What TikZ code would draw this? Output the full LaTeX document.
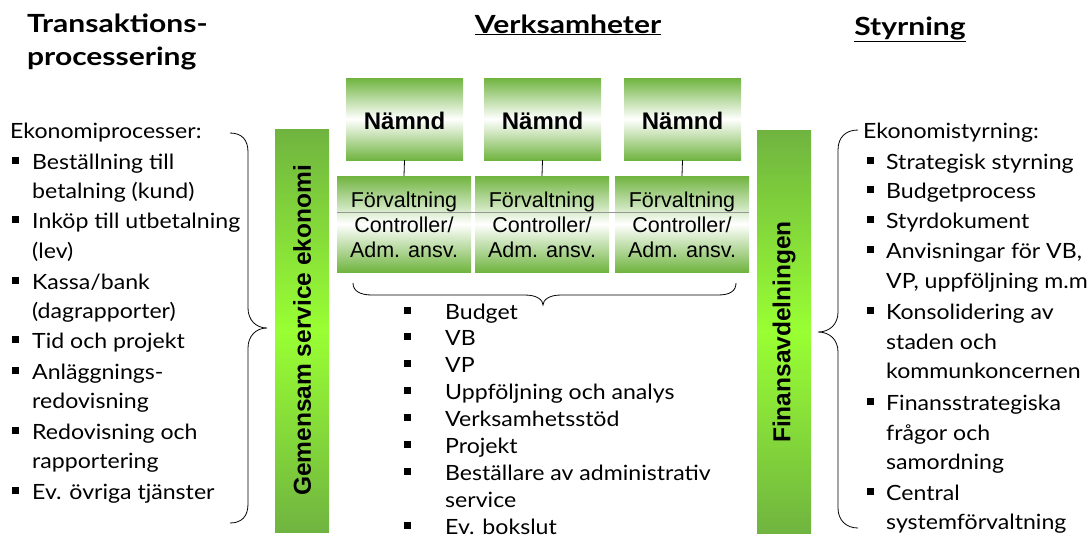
\documentclass[tikz,border=0pt]{standalone}
\usepackage{fontspec}
\setmainfont{Lato}
\newfontfamily\listfont[FakeStretch=1.1]{Lato}
\newfontfamily\headfont[FakeStretch=1.2]{Lato}
\newfontfamily\arialf{Liberation Sans}
\usetikzlibrary{calc}
\definecolor{gA}{RGB}{112,180,64}
\definecolor{lime}{RGB}{153,255,51}
\definecolor{divgray}{RGB}{150,150,150}
\begin{document}
\begin{tikzpicture}[x=1pt,y=-1pt,
  headf/.style={font=\headfont\fontsize{25}{28}\selectfont\bfseries, inner sep=0pt},
  listf/.style={font=\listfont\fontsize{21}{24}\selectfont, inner sep=0pt, anchor=base west},
  bul/.style={fill=black, minimum size=7pt, inner sep=0pt, draw=none},
  namnd/.style={minimum width=117pt, minimum height=82pt, inner sep=0pt,
     top color=gA, bottom color=gA, middle color=white},
  namndt/.style={font=\arialf\fontsize{24}{28}\selectfont\bfseries, inner sep=0pt, anchor=base},
  forv/.style={minimum width=134pt, minimum height=96pt, inner sep=0pt,
     top color=gA, bottom color=gA, middle color=white},
  boxt/.style={font=\arialf\fontsize{21.5}{25}\selectfont, inner sep=0pt, anchor=base},
  bar/.style={minimum width=54pt, minimum height=403pt, inner sep=0pt,
     top color=gA, bottom color=gA, middle color=lime},
  bart/.style={font=\arialf\fontsize{24.5}{28}\selectfont\bfseries, rotate=90, inner sep=0pt},
  brace/.style={draw=black, line width=0.8pt},
  link/.style={draw=black, line width=0.8pt}]
\useasboundingbox (0,0) rectangle (1089,539);

% headings
\node[headf, anchor=base west] (h1) at (27,32) {Transaktions-};
\node[headf, anchor=base west] (h1b) at (27,65) {processering};
\node[headf, anchor=base] (h2) at (568,33) {\underline{Verksamheter}};
\node[headf, anchor=base] (h3) at (910,35) {\underline{Styrning}};

% Nämnd boxes
\foreach \cx [count=\i] in {404.5,542.5,682.5} {
  \node[namnd] (n\i) at (\cx,119) {};
  \node[namndt] (nt\i) at (\cx,129) {Nämnd};
}
% Förvaltning boxes
\foreach \cx [count=\i] in {404,542,682} {
  \node[forv] (f\i) at (\cx,224) {};
  \node[boxt] (ft\i) at (\cx,207) {Förvaltning};
  \node[boxt] (ct\i) at (\cx,232) {Controller/};
  \node[boxt] (at\i) at (\cx,257) {Adm. ansv.};
  \draw[link] (n\i.south) -- (f\i.north);
}
\draw[divgray, line width=0.8pt] (f1.west |- 0,212) -- (f3.east |- 0,212);

% bottom brace
\draw[brace] (353,283) .. controls (353,291) and (360,295) .. (372,295) -- (525,295)
  .. controls (537,295) and (543,300) .. (543,305)
  .. controls (543,300) and (549,295) .. (561,295) -- (718,295)
  .. controls (730,295) and (736,291) .. (736,283);

% vertical bars
\node[bar] (lb) at (302,330.5) {};
\node[bart] (lbt) at (lb.center) {Gemensam service ekonomi};
\node[bar] (rb) at (784,332) {};
\node[bart] (rbt) at (rb.center) {Finansavdelningen};

% left brace
\draw[brace] (230,133) .. controls (242,133) and (248,140) .. (248,152) -- (248,308)
  .. controls (248,320) and (256,328) .. (267,328)
  .. controls (256,328) and (248,336) .. (248,348) -- (248,504)
  .. controls (248,516) and (242,523) .. (230,523);
% right brace
\draw[brace] (858,130) .. controls (846,130) and (838,137) .. (838,150) -- (838,312)
  .. controls (838,324) and (830,332) .. (818,332)
  .. controls (830,332) and (838,340) .. (838,352) -- (838,508)
  .. controls (838,520) and (846,528) .. (858,528);

% left list
\node[listf] (lh) at (10,138) {Ekonomiprocesser:};
\foreach \t/\y/\b [count=\i] in {
  {Beställning till}/169/1, {betalning (kund)}/198/0,
  {Inköp till utbetalning}/228/1, {(lev)}/258/0,
  {Kassa/bank}/289/1, {(dagrapporter)}/318/0,
  {Tid och projekt}/348/1, {Anläggnings-}/379/1, {redovisning}/408/0,
  {Redovisning och}/439/1, {rapportering}/468/0, {Ev. övriga tjänster}/499/1} {
  \node[listf] (l\i) at (32,\y) {\t};
  \ifnum\b=1 \node[bul] (lb\i) at (15,\y-9) {}; \fi
}

% middle list
\foreach \t/\y/\b [count=\i] in {
  {Budget}/319/1, {VB}/345/1, {VP}/372/1, {Uppföljning och analys}/399/1,
  {Verksamhetsstöd}/426/1, {Projekt}/453/1, {Beställare av administrativ}/480/1,
  {service}/507/0, {Ev. bokslut}/534/1} {
  \node[listf] (m\i) at (445,\y) {\t};
  \ifnum\b=1 \node[bul] (mb\i) at (407,\y-9) {}; \fi
}

% right list
\node[listf] (rh) at (863,138) {Ekonomistyrning:};
\foreach \t/\y/\b [count=\i] in {
  {Strategisk styrning}/169/1, {Budgetprocess}/198/1, {Styrdokument}/228/1,
  {Anvisningar för VB,}/258/1, {VP, uppföljning m.m}/288/0,
  {Konsolidering av}/319/1, {staden och}/349/0, {kommunkoncernen}/378/0,
  {Finansstrategiska}/410/1, {frågor och}/440/0, {samordning}/469/0,
  {Central}/500/1, {systemförvaltning}/529/0} {
  \node[listf] (r\i) at (886,\y) {\t};
  \ifnum\b=1 \node[bul] (rbul\i) at (870,\y-9) {}; \fi
}
\end{tikzpicture}
\end{document}
